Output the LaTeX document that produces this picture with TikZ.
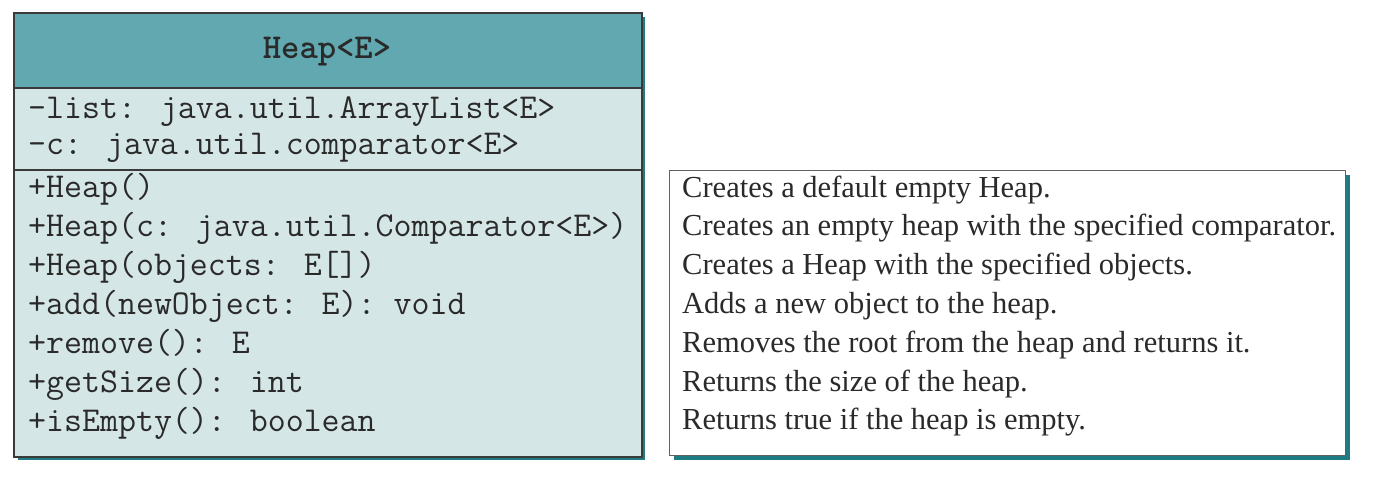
\documentclass[tikz,border=0pt]{standalone}
\usepackage{fontspec}
\setmainfont{Liberation Serif}
\definecolor{headc}{HTML}{62A8B0}
\definecolor{bodyc}{HTML}{D5E6E7}
\definecolor{shadowc}{HTML}{1F7C82}
\definecolor{linec}{HTML}{3A3A3A}
\definecolor{txtc}{HTML}{2A2A2A}
\tikzset{
  umlbox/.style={draw=linec, line width=1.2pt, rectangle, inner sep=0pt, anchor=north west},
  mono/.style={anchor=base west, inner sep=0pt, text=txtc, font=\ttfamily\fontsize{34.9}{40}\selectfont},
  desc/.style={anchor=base west, inner sep=0pt, text=txtc, font=\fontsize{30.5}{36}\selectfont},
}
\begin{document}
\begin{tikzpicture}[x=1pt,y=-1pt]
\useasboundingbox (0,0) rectangle (1375,492);
% left class box
\fill[shadowc] (18,17) rectangle (645,460);
\node[umlbox, fill=bodyc, minimum width=627pt, minimum height=443pt] (cls) at (14,13) {};
\fill[headc] (14,13) rectangle (641,88);
\draw[linec, line width=1.2pt] (cls.north west) rectangle (cls.south east);
\coordinate (l1a) at (14,88); \coordinate (l1b) at (641,88);
\coordinate (l2a) at (14,170); \coordinate (l2b) at (641,170);
\draw[linec, line width=1.2pt] (l1a) -- (l1b);
\draw[linec, line width=1.2pt] (l2a) -- (l2b);
\node[anchor=base, inner sep=0pt, text=txtc, font=\ttfamily\bfseries\fontsize{34.9}{40}\selectfont] (title) at (327,59) {Heap<E>};
\node[mono] (a1) at (28,119) {-list: java.util.ArrayList<E>};
\node[mono] (a2) at (28,154) {-c: java.util.comparator<E>};
\node[mono] (m1) at (28,197) {+Heap()};
\node[mono] (m2) at (28,236) {+Heap(c: java.util.Comparator<E>)};
\node[mono] (m3) at (28,275) {+Heap(objects: E[])};
\node[mono] (m4) at (28,314) {+add(newObject: E): void};
\node[mono] (m5) at (28,353) {+remove(): E};
\node[mono] (m6) at (28,392) {+getSize(): int};
\node[mono] (m7) at (28,431) {+isEmpty(): boolean};
% right description box
\fill[shadowc] (674,175) rectangle (1350,460);
\node[umlbox, draw=linec!80, fill=white, line width=1pt, minimum width=676pt, minimum height=285pt] (dsc) at (669,170) {};
\node[desc] (d1) at (682,197) {Creates a default empty Heap.};
\node[desc] (d2) at (682,235) {Creates an empty heap with the specified comparator.};
\node[desc] (d3) at (682,274) {Creates a Heap with the specified objects.};
\node[desc] (d4) at (682,313) {Adds a new object to the heap.};
\node[desc] (d5) at (682,352) {Removes the root from the heap and returns it.};
\node[desc] (d6) at (682,391) {Returns the size of the heap.};
\node[desc] (d7) at (682,429) {Returns true if the heap is empty.};
\end{tikzpicture}
\end{document}
